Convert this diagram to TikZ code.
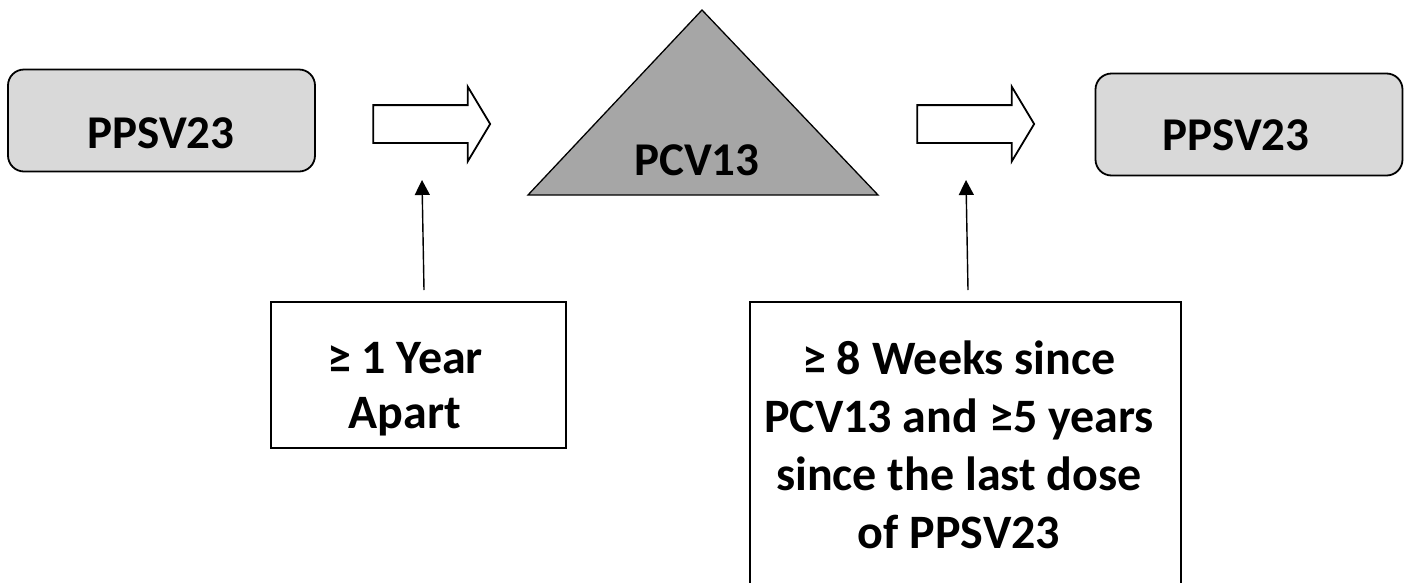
\documentclass[tikz,border=0pt]{standalone}
\usepackage{fontspec}
\setmainfont{Carlito}
\usepackage{tikz}
\usetikzlibrary{
  positioning,
  shapes.arrows,           % block arrows
  arrows.meta              % triangle arrowheads
}

\definecolor{boxgray}{RGB}{217,217,217}
\definecolor{trigray}{RGB}{166,166,166}

\begin{document}
\begin{tikzpicture}[
    x=1pt, y=-1pt,
    >={Triangle[length=15pt, width=15pt]},
    every node/.style={align=center},
    vaxbox/.style={rectangle, rounded corners=16pt, draw, line width=1.8pt,
                   fill=boxgray, minimum width=307pt, minimum height=102pt, inner sep=0pt},
    notebox/.style={rectangle, draw, line width=1.6pt, inner sep=0pt},
    blockarrow/.style={single arrow, draw, line width=1.8pt, fill=white,
                       inner xsep=0pt, inner ysep=18pt, minimum height=117pt,
                       single arrow head extend=18.5pt, single arrow tip angle=118},
    lbl/.style={font=\fontsize{47}{56}\selectfont\bfseries, anchor=base, inner sep=0pt}
]
  \useasboundingbox (0,0) rectangle (1410,582);

  % top row
  \node[vaxbox] (first)  at (161.5,120.5) {};
  \node[lbl]    (firstlbl) at (161,148) {PPSV23};

  \node[blockarrow] (arrA) at (426,124) {};

  \draw[fill=trigray, line width=1.3pt]
       (702,10) coordinate (apex) -- (878,195) coordinate (rbase)
       -- (528,195) coordinate (lbase) -- cycle;
  \node[lbl] (pcv) at (697,175) {PCV13};

  \node[blockarrow] (arrB) at (970,124) {};

  \node[vaxbox] (second) at (1249,124.5) {};
  \node[lbl]    (secondlbl) at (1236,150) {PPSV23};

  % interval notes (base = last line)
  \node[notebox, minimum width=295pt, minimum height=146pt] (gapA) at (418.5,375) {};
  \node[lbl, font=\fontsize{48}{55}\selectfont\bfseries] (gapAlbl) at (405,428)
        {≥ 1 Year\\Apart};

  \node[notebox, minimum width=431pt, minimum height=300pt] (gapB) at (965.5,452) {};
  \node[lbl, font=\fontsize{48}{58}\selectfont\bfseries] (gapBlbl) at (959,548)
        {≥ 8 Weeks since\\PCV13 and ≥5 years\\since the last dose\\of PPSV23};

  \coordinate (tailA) at (424,290);
  \coordinate (tipA)  at (422,180);
  \coordinate (tailB) at (968,290);
  \coordinate (tipB)  at (966,180);

  \draw[->, line width=1.4pt] (tailA) -- (tipA);
  \draw[->, line width=1.4pt] (tailB) -- (tipB);
\end{tikzpicture}
\end{document}
